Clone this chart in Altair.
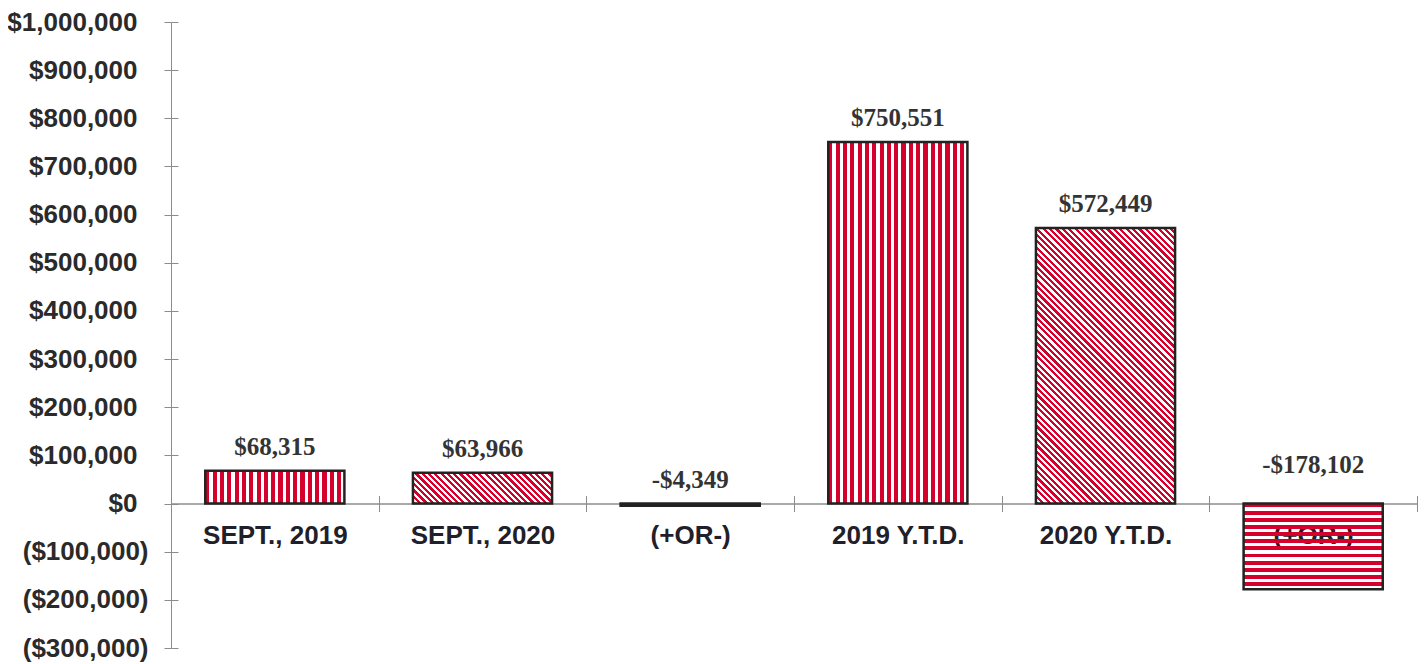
import json
import math
import altair as alt
import pandas as pd

# ---- data ----
categories = ["SEPT., 2019", "SEPT., 2020", "(+OR-)", "2019 Y.T.D.", "2020 Y.T.D.", "(+OR-)"]
values = [68315, 63966, -4349, 750551, 572449, -178102]
y_ticks = [-300000, -200000, -100000, 0, 100000, 200000, 300000, 400000,
           500000, 600000, 700000, 800000, 900000, 1000000]

# ---- styles ----
patterns = ["vertical", "diagonal", "horizontal", "vertical", "diagonal", "horizontal"]
RED = "#d5002b"
CLEAR = "rgba(255,255,255,0)"
DARK = "#222222"
GRAY = "#8c8c8c"

W, H = 1246, 626
Y_MIN, Y_MAX = -300000, 1000000
ppu = H / (Y_MAX - Y_MIN)
step = W / len(categories)
BAND = 0.67
bw = BAND * step


def stops(n, frac):
    out = []
    for i in range(n):
        a = i / n
        m = min(1.0, (i + frac) / n)
        b = min(1.0, (i + 1) / n)
        out += [{"offset": a, "color": RED}, {"offset": m, "color": RED},
                {"offset": m, "color": CLEAR}, {"offset": b, "color": CLEAR}]
    return out


def gradient(kind, w, h):
    if kind == "vertical":
        n = max(1, round(w / 7.3))
        return {"gradient": "linear", "x1": 0, "y1": 0, "x2": 1, "y2": 0,
                "stops": stops(n, 0.56)}
    if kind == "horizontal":
        n = max(1, round(h / 7.1))
        return {"gradient": "linear", "x1": 0, "y1": 0, "x2": 0, "y2": 1,
                "stops": stops(n, 0.55)}
    k = (w + h) / (w * w + h * h)
    n = max(1, round((w + h) / math.sqrt(2) / 4.5))
    return {"gradient": "linear", "x1": 0, "y1": 1, "x2": k * w, "y2": 1 - k * h,
            "stops": stops(n, 0.5)}


df = pd.DataFrame({"key": list(range(len(categories))), "value": values})

label_expr = json.dumps(categories) + "[datum.value]"
x_scale = alt.Scale(type="band", paddingInner=0, paddingOuter=0)
y_scale = alt.Scale(domain=[Y_MIN, Y_MAX], nice=False, zero=False)

zero_from_top = (Y_MAX - 0) * ppu
zero_from_bottom = (0 - Y_MIN) * ppu

y_label_expr = ("datum.value < 0 ? '($' + format(-datum.value, ',') + ')' : "
                "'$' + format(datum.value, ',')")

x_bottom = alt.Axis(orient="bottom", offset=-zero_from_bottom, title=None,
                    labelExpr=label_expr, labelAngle=0, tickBand="extent",
                    tickSize=8, tickColor=GRAY, tickWidth=1, domainColor=GRAY,
                    domainWidth=1.5, labelFont="Liberation Sans", labelFontSize=26,
                    labelFontWeight="bold", labelColor="#1f2029", labelPadding=11,
                    grid=False)
y_left = alt.Axis(orient="left", title=None, values=y_ticks, labelExpr=y_label_expr,
                  tickSize=7, tickColor=GRAY, tickWidth=1, domainColor=GRAY,
                  domainWidth=1, labelFont="Liberation Sans", labelFontSize=26,
                  labelFontWeight="bold", labelColor="#2a2a2a",
                  labelPadding={"condition": {"test": "datum.value >= 0", "value": 27},
                                "value": 16},
                  grid=False)

layers = []
for i, cat in enumerate(categories):
    h = abs(values[i]) * ppu
    fill = gradient(patterns[i], bw, h)
    enc_x = alt.X("key:O", scale=x_scale, axis=x_bottom if i == 0 else alt.Undefined)
    enc_y = alt.Y("value:Q", scale=y_scale, axis=y_left if i == 0 else alt.Undefined)
    layers.append(
        alt.Chart(df).transform_filter(f"datum.key == {i}")
        .mark_bar(fill=fill, stroke=DARK, strokeWidth=2.5,
                  width=alt.RelativeBandSize(BAND))
        .encode(x=enc_x, y=enc_y)
    )

txt_calc = dict(
    ly="max(datum.value, 0)",
    txt="(datum.value < 0 ? '-' : '') + '$' + format(abs(datum.value), ',')",
)
text_style = dict(font="Liberation Serif", fontWeight="bold", fontSize=25,
                  color="#333333", baseline="alphabetic", align="center")

labels_a = (alt.Chart(df).transform_filter("datum.value >= -100000")
            .transform_calculate(**txt_calc)
            .mark_text(dy=-16, **text_style)
            .encode(x=alt.X("key:O", scale=x_scale), y=alt.Y("ly:Q", scale=y_scale),
                    text="txt:N"))
labels_b = (alt.Chart(df).transform_filter("datum.value < -100000")
            .transform_calculate(**txt_calc)
            .mark_text(dy=-31, **text_style)
            .encode(x=alt.X("key:O", scale=x_scale), y=alt.Y("ly:Q", scale=y_scale),
                    text="txt:N"))

main = alt.layer(*layers, labels_a, labels_b)

x_top = alt.Axis(orient="top", offset=-zero_from_top, title=None, labels=False,
                 domain=False, tickBand="extent", tickSize=8, tickColor=GRAY,
                 tickWidth=1, grid=False)
y_right = alt.Axis(orient="right", offset=-W, title=None, labels=False, domain=False,
                   values=y_ticks, tickSize=7, tickColor=GRAY, tickWidth=1, grid=False)

axis_layer = (alt.Chart(df).mark_point(opacity=0)
              .encode(x=alt.X("key:O", scale=x_scale, axis=x_top),
                      y=alt.Y("value:Q", scale=y_scale, axis=y_right)))

chart = (alt.layer(main, axis_layer)
         .resolve_axis(x="independent", y="independent")
         .properties(width=W, height=H, autosize=alt.AutoSizeParams(type="none"),
                     padding={"left": 163, "top": 14, "right": 2, "bottom": 16},
                     background="white")
         .configure_view(stroke="transparent"))

chart.save("out.html", embed_options={"renderer": "svg", "actions": False})
